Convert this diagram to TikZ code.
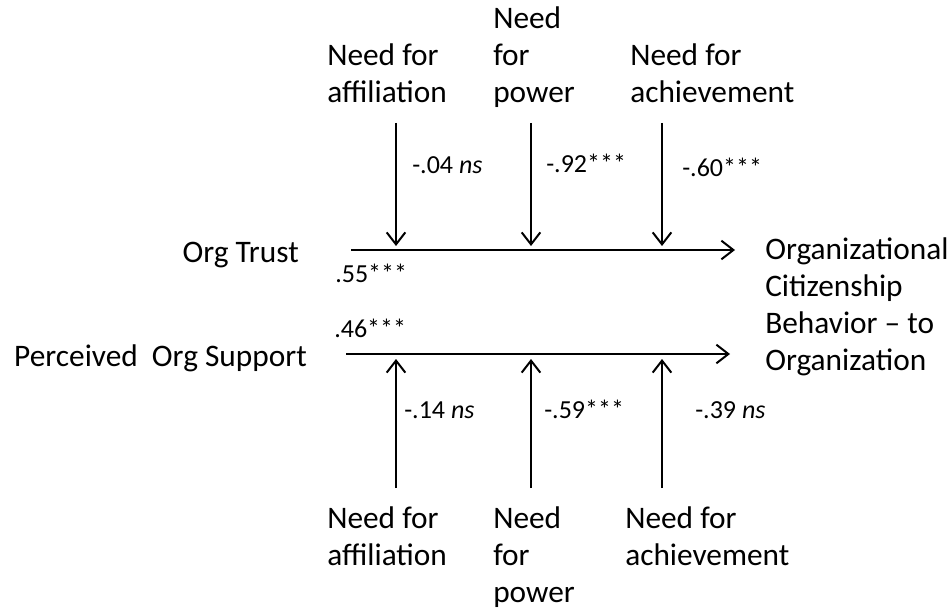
\documentclass[tikz,border=0pt]{standalone}
\usepackage{fontspec}
\setmainfont{Carlito}
\usetikzlibrary{arrows.meta}

\begin{document}
\begin{tikzpicture}[
    x=0.75pt, y=-0.75pt,
    label/.style={anchor=base west, inner sep=0pt, align=left, font=\fontsize{23.5}{27.75}\selectfont},
    coef/.style={anchor=base west, inner sep=0pt, font=\fontsize{19.5}{23}\selectfont},
    line/.style={draw, line width=1.5pt, -{Straight Barb[length=9pt, width=14pt, line width=1.5pt]}}
]
\useasboundingbox (0,0) rectangle (952,609);

% predictors and outcome (base = last line)
\node[label, anchor=base east] (trust) at (299,263) {Org Trust};
\node[label, anchor=base east] (support) at (307,366) {Perceived\ \ Org Support};
\node[label] (ocb) at (765,370) {Organizational\\Citizenship\\Behavior -- to\\Organization};

% moderators above
\node[label] (affup) at (327,103) {Need for\\affiliation};
\node[label] (powup) at (493,103) {Need\\for\\power};
\node[label] (achup) at (630,103) {Need for\\achievement};

% moderators below
\node[label] (affdown) at (327,565) {Need for\\affiliation};
\node[label] (powdown) at (493,602) {Need\\for\\power};
\node[label] (achdown) at (625,565) {Need for\\achievement};

% path ends
\coordinate (truststart) at (351,250);
\coordinate (trustend) at (735,250);
\coordinate (supportstart) at (346,354);
\coordinate (supportend) at (730,354);

\coordinate (affupstart) at (396,123);
\coordinate (affupend) at (396,246);
\coordinate (powupstart) at (531,123);
\coordinate (powupend) at (531,246);
\coordinate (achupstart) at (662,123);
\coordinate (achupend) at (662,246);

\coordinate (affdownstart) at (396,488);
\coordinate (affdownend) at (396,359);
\coordinate (powdownstart) at (531,488);
\coordinate (powdownend) at (531,359);
\coordinate (achdownstart) at (662,488);
\coordinate (achdownend) at (662,359);

\draw[line] (truststart) -- (trustend);
\draw[line] (supportstart) -- (supportend);

\draw[line] (affupstart) -- (affupend);
\draw[line] (powupstart) -- (powupend);
\draw[line] (achupstart) -- (achupend);

\draw[line] (affdownstart) -- (affdownend);
\draw[line] (powdownstart) -- (powdownend);
\draw[line] (achdownstart) -- (achdownend);

% coefficients
\node[coef] (ctrust) at (335,283) {.55***};
\node[coef] (csupport) at (334,337) {.46***};
\node[coef] (caffup) at (412,174) {-.04 \textit{ns}};
\node[coef] (cpowup) at (546,173) {-.92***};
\node[coef] (cachup) at (682,177) {-.60***};
\node[coef] (caffdown) at (404,418) {-.14 \textit{ns}};
\node[coef] (cpowdown) at (544,418) {-.59***};
\node[coef] (cachdown) at (695,418) {-.39 \textit{ns}};

\end{tikzpicture}
\end{document}
